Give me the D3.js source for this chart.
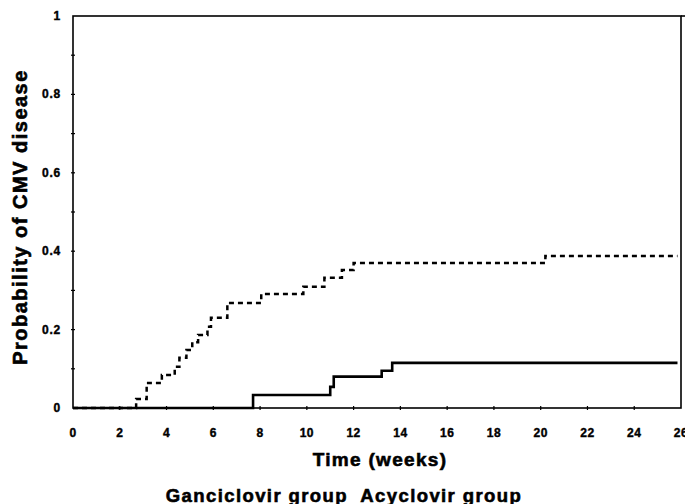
<!DOCTYPE html>
<html>
<head>
<meta charset="utf-8">
<script src="https://cdn.jsdelivr.net/npm/d3@7"></script>
<style>
  body { margin: 0; background: #fff; }
  svg text { font-family: "Liberation Sans", Arial, sans-serif; font-weight: bold; fill: #000; stroke: #000; }
</style>
</head>
<body>
<div id="chart"></div>
<script>
// step points (weeks, probability)
var acyclovirWeeks = [0, 2.7, 3.15, 3.8, 4.35, 4.55, 4.85, 5.1, 5.35, 5.75, 5.9, 6.6, 8.05, 9.85, 10.75, 11.5, 12.0, 20.2, 25.85];
var acyclovirProb  = [0, 0.023, 0.064, 0.084, 0.105, 0.128, 0.148, 0.168, 0.186, 0.207, 0.23, 0.268, 0.291, 0.309, 0.332, 0.352, 0.37, 0.388, 0.388];
var ganciclovirWeeks = [0, 7.7, 11.0, 11.15, 13.2, 13.65, 25.85];
var ganciclovirProb  = [0, 0.033, 0.054, 0.08, 0.095, 0.115, 0.115];

var xTicks = [0, 2, 4, 6, 8, 10, 12, 14, 16, 18, 20, 22, 24, 26];
var yTicks = [0, 0.2, 0.4, 0.6, 0.8, 1];
var yMinorTicks = [0.1, 0.3, 0.5, 0.7, 0.9];

var width = 685, height = 504,
  margin = {top: 16, right: 4, bottom: 96, left: 73};

var svg = d3.select("#chart").append("svg")
  .attr("width", width)
  .attr("height", height);

var x = d3.scaleLinear().domain([0, 26]).range([margin.left, 681]);
var y = d3.scaleLinear().domain([0, 1]).range([408, margin.top]);

// frame
svg.append("rect")
  .attr("x", x(0)).attr("y", y(1))
  .attr("width", x(26) - x(0)).attr("height", y(0) - y(1))
  .attr("fill", "none").attr("stroke", "#000").attr("stroke-width", 1.6);
// top edge runs on to the page border
svg.append("line")
  .attr("x1", x(26)).attr("x2", width)
  .attr("y1", y(1)).attr("y2", y(1))
  .attr("stroke", "#000").attr("stroke-width", 1.6);

// x axis ticks (small marks across the line)
svg.selectAll(".xtick").data(xTicks.slice(1, -1)).enter().append("line")
  .attr("x1", d => x(d)).attr("x2", d => x(d))
  .attr("y1", y(0) - 2).attr("y2", y(0) + 2)
  .attr("stroke", "#000").attr("stroke-width", 1.2);

svg.selectAll(".xlab").data(xTicks).enter().append("text")
  .attr("x", d => x(d)).attr("y", 437)
  .attr("text-anchor", "middle")
  .attr("font-size", 12)
  .attr("stroke-width", 0.4)
  .attr("letter-spacing", 0.5)
  .text(d => d);

// y axis ticks
svg.selectAll(".ytick").data(yTicks.slice(1, -1).concat(yMinorTicks)).enter().append("line")
  .attr("x1", x(0) - 2).attr("x2", x(0) + 2)
  .attr("y1", d => y(d)).attr("y2", d => y(d))
  .attr("stroke", "#000").attr("stroke-width", 1.2);

svg.selectAll(".ylab").data(yTicks).enter().append("text")
  .attr("x", 61).attr("y", d => y(d) + 4)
  .attr("text-anchor", "end")
  .attr("font-size", 12)
  .attr("stroke-width", 0.4)
  .attr("letter-spacing", 0.8)
  .text(d => d === 0 || d === 1 ? d : d.toFixed(1));

// curves
var line = d3.line()
  .x(d => x(d[0]))
  .y(d => y(d[1]))
  .curve(d3.curveStepAfter);

svg.append("path")
  .datum(acyclovirWeeks.map((w, i) => [w, acyclovirProb[i]]))
  .attr("d", line)
  .attr("fill", "none").attr("stroke", "#000")
  .attr("stroke-width", 2.5)
  .attr("stroke-dasharray", "5,4");

svg.append("path")
  .datum(ganciclovirWeeks.map((w, i) => [w, ganciclovirProb[i]]))
  .attr("d", line)
  .attr("fill", "none").attr("stroke", "#000")
  .attr("stroke-width", 2.6);

// axis titles
svg.append("text")
  .attr("transform", "translate(27,217) rotate(-90)")
  .attr("text-anchor", "middle")
  .attr("font-size", 20)
  .attr("stroke-width", 0.6)
  .attr("letter-spacing", 1.5)
  .text("Probability of CMV disease");

svg.append("text")
  .attr("x", 380).attr("y", 466)
  .attr("text-anchor", "middle")
  .attr("font-size", 19)
  .attr("stroke-width", 0.6)
  .attr("letter-spacing", 1.3)
  .text("Time (weeks)");

svg.append("text")
  .attr("x", 344).attr("y", 502)
  .attr("text-anchor", "middle")
  .attr("font-size", 18.5)
  .attr("stroke-width", 0.6)
  .attr("letter-spacing", 1.4)
  .attr("xml:space", "preserve")
  .text("Ganciclovir group  Acyclovir group");
</script>
</body>
</html>
